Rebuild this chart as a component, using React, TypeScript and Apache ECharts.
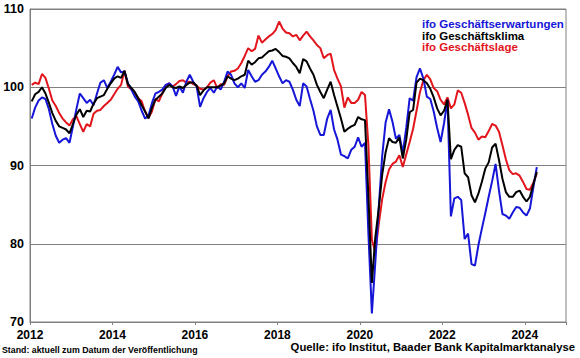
import React, { useEffect, useRef } from "react";
import * as echarts from "echarts";

const START_YEAR = 2012;
const X_MIN = 2012;
const X_MAX = 2025;
const Y_MIN = 70;
const Y_MAX = 110;

const seriesNames = ["ifo Geschäftserwartungen", "ifo Geschäftsklima", "ifo Geschäftslage"];
const sourceNote = "Quelle: ifo Institut, Baader Bank Kapitalmarktanalyse";
const standNote = "Stand: aktuell zum Datum der Veröffentlichung";

// monthly values, Jan 2012 .. Apr 2024
const expectations = [
  96.0, 97.4, 98.3, 98.7, 98.5, 97.2, 95.3, 93.8, 92.9, 93.3, 93.5, 92.9,
  95.0, 97.2, 99.2, 98.6, 98.0, 98.4, 97.7, 99.2, 100.6, 100.9, 99.9, 100.7,
  101.6, 102.6, 101.9, 102.0, 100.5, 99.7, 98.8, 98.2, 97.0, 96.0, 96.4, 98.0,
  99.2, 99.4, 99.7, 100.3, 100.5, 100.1, 98.9, 100.1, 99.3, 100.7, 101.6, 100.7,
  100.1, 97.5, 98.6, 99.4, 99.9, 99.3, 100.1, 99.7, 100.7, 102.0, 101.6, 100.5,
  100.0, 100.5, 99.9, 102.2, 101.4, 100.7, 100.9, 101.6, 102.0, 102.6, 103.4, 102.4,
  101.4, 100.5, 100.9, 100.7, 99.7, 98.4, 97.6, 100.5, 100.1, 98.5, 97.0, 95.0,
  93.9, 93.9, 96.0, 97.1, 94.6, 93.3, 91.4, 91.2, 90.9, 92.0, 92.4, 93.6,
  92.4, 92.9, 81.2, 71.1, 77.6, 84.6, 91.2, 95.5, 97.2, 95.6, 93.4, 93.9,
  91.6, 94.8, 98.6, 98.3, 101.3, 102.4, 101.1, 98.8, 98.5, 96.9, 94.8, 93.0,
  95.4, 98.4, 83.5, 85.8, 86.0, 85.6, 80.6, 81.3, 77.4, 77.2, 79.8, 81.9,
  83.9, 86.0, 88.0, 90.2, 86.8, 83.8, 83.6, 83.2, 84.0, 84.7, 84.6, 84.0,
  83.6, 84.5, 87.2, 89.8,
];

const climate = [
  98.2, 99.1, 99.4, 100.0, 99.2, 98.0, 96.7, 95.7, 95.0, 94.8, 94.6, 94.1,
  95.3, 96.5, 97.2, 96.2, 97.0, 96.9, 97.9, 98.6, 98.8, 99.0, 99.8, 100.5,
  101.1, 101.4, 101.2, 102.1, 100.4, 99.9, 99.4, 98.6, 97.7, 96.9, 96.0, 97.4,
  98.4, 98.8, 99.2, 99.9, 100.3, 100.0, 99.9, 100.1, 99.9, 100.3, 100.6, 100.6,
  100.2, 99.0, 99.6, 100.0, 100.0, 100.0, 100.0, 100.2, 100.5, 101.4, 101.1, 100.9,
  101.1, 101.4, 101.6, 103.4, 102.9, 103.2, 103.7, 103.8, 104.2, 104.6, 104.7, 104.9,
  104.5, 104.0, 103.9, 103.7, 103.1, 102.6, 101.8, 103.6, 103.3, 102.4, 101.6, 100.3,
  99.4, 98.6, 99.7, 100.7, 99.0, 97.5, 96.0, 94.3, 94.7, 95.0, 95.2, 96.2,
  95.9, 95.8, 86.0, 75.0, 80.8, 84.5, 88.8, 91.7, 93.5, 93.0, 92.9, 93.6,
  90.9, 93.3, 96.8, 97.1, 100.6, 101.1, 100.9, 100.5, 99.8, 98.7, 97.3, 96.4,
  97.0, 98.4, 90.8, 92.0, 92.6, 92.4, 89.0, 88.5, 86.2, 85.3, 86.4, 87.9,
  89.6, 90.4, 92.3, 92.8, 90.7, 88.3, 86.6, 86.0, 86.0, 86.6, 86.8, 86.0,
  85.4, 86.0, 87.6, 89.2,
];

const situation = [
  100.3, 100.6, 100.4, 101.7, 101.2, 99.8, 98.3, 97.6, 96.7, 96.0, 95.5, 95.1,
  95.9, 96.3, 95.3, 94.3, 95.3, 95.0, 96.6, 97.0, 97.1, 97.6, 98.0, 98.4,
  99.1, 99.8, 100.3, 102.1, 100.1, 99.7, 99.2, 98.6, 98.2, 96.9, 96.1, 96.9,
  98.5, 98.2, 99.2, 100.2, 100.5, 100.1, 100.4, 100.8, 100.9, 100.6, 100.7, 100.4,
  100.2, 99.8, 99.7, 100.0, 100.6, 100.9, 99.9, 100.4, 100.3, 101.4, 102.0, 102.1,
  102.4, 103.1, 104.0, 105.0, 104.6, 104.9, 106.6, 105.7, 106.1, 106.5, 106.8, 107.3,
  108.4, 107.5, 107.0, 106.9, 106.5, 106.7, 106.0, 106.6, 107.1, 106.5, 106.0, 105.4,
  105.0, 103.7, 104.1, 104.3, 102.2, 101.1, 100.1, 97.4, 98.7, 98.0, 98.0, 98.4,
  99.4, 99.0, 92.5, 80.5, 78.9, 82.5, 85.7, 87.9, 89.5, 90.2, 90.5, 91.3,
  89.8, 91.4, 93.0, 94.7, 97.0, 99.4, 100.9, 101.6, 101.0, 99.9, 99.5, 98.4,
  97.8, 98.7, 97.3, 97.8, 99.6, 99.3, 98.0, 96.5, 94.8, 94.2, 93.3, 93.7,
  93.6, 94.4, 95.3, 95.1, 94.3, 92.6, 90.8, 89.4, 88.9, 89.0, 88.7, 87.9,
  87.0, 86.9, 87.8, 89.0,
];

const BLUE = "#1616d8";
const BLACK = "#000000";
const RED = "#e3151c";
const GRID = "#808080";
const FONT = '"Liberation Sans", Arial, sans-serif';

const toPoints = (vals: number[]) =>
  vals.map((v, i) => [START_YEAR + (i + 0.5) / 12, v]);

export default function App() {
  const ref = useRef<HTMLDivElement>(null);
  useEffect(() => {
    if (!ref.current) return;
    const chart = echarts.init(ref.current, undefined, { renderer: "svg" });
    const lineSeries = (name: string, vals: number[], color: string) => ({
      name,
      type: "line",
      data: toPoints(vals),
      showSymbol: false,
      symbol: "none",
      lineStyle: { color, width: 2 },
      itemStyle: { color },
      emphasis: { disabled: true },
    });
    chart.setOption({
      animation: false,
      backgroundColor: "#ffffff",
      grid: {
        left: 30,
        right: 14,
        top: 9,
        bottom: 36,
        show: true,
        borderColor: GRID,
        borderWidth: 1,
      },
      xAxis: {
        type: "value",
        min: X_MIN,
        max: X_MAX,
        interval: 2,
        axisLine: { show: true, lineStyle: { color: GRID, width: 1 } },
        axisTick: { show: true, length: 3, lineStyle: { color: GRID } },
        splitLine: { show: false },
        axisLabel: {
          formatter: (v: number) => (v % 2 === 0 ? String(v) : ""),
          color: "#000",
          fontWeight: "bold",
          fontSize: 12,
          fontFamily: FONT,
          margin: 7,
        },
      },
      yAxis: {
        type: "value",
        min: Y_MIN,
        max: Y_MAX,
        interval: 10,
        axisLine: { show: true, lineStyle: { color: GRID, width: 1 } },
        axisTick: { show: false },
        splitLine: { show: true, lineStyle: { color: GRID, width: 1 } },
        axisLabel: {
          color: "#000",
          fontWeight: "bold",
          fontSize: 12.5,
          fontFamily: FONT,
          margin: 6,
        },
      },
      series: [
        lineSeries(seriesNames[2], situation, RED),
        lineSeries(seriesNames[0], expectations, BLUE),
        lineSeries(seriesNames[1], climate, BLACK),
      ],
      graphic: [
        ...[
          { t: seriesNames[0], c: BLUE },
          { t: seriesNames[1], c: BLACK },
          { t: seriesNames[2], c: RED },
        ].map((d, i) => ({
          type: "text",
          x: 422,
          y: 24 + i * 11.6,
          style: {
            text: d.t,
            fill: d.c,
            font: `bold 11.5px ${FONT}`,
            textAlign: "left",
            textVerticalAlign: "middle",
            align: "left",
            verticalAlign: "middle",
          },
        })),
        {
          type: "text",
          x: 2,
          y: 350,
          style: {
            text: standNote,
            fill: "#000",
            font: `bold 8.8px ${FONT}`,
            textAlign: "left",
            textVerticalAlign: "middle",
            align: "left",
            verticalAlign: "middle",
          },
        },
        {
          type: "text",
          x: 575,
          y: 347,
          style: {
            text: sourceNote,
            fill: "#000",
            font: `bold 11.3px ${FONT}`,
            textAlign: "right",
            textVerticalAlign: "middle",
            align: "right",
            verticalAlign: "middle",
          },
        },
      ],
    });
    return () => chart.dispose();
  }, []);
  return <div ref={ref} style={{ width: 580, height: 358, position: "absolute", left: 0, top: 0 }} />;
}
